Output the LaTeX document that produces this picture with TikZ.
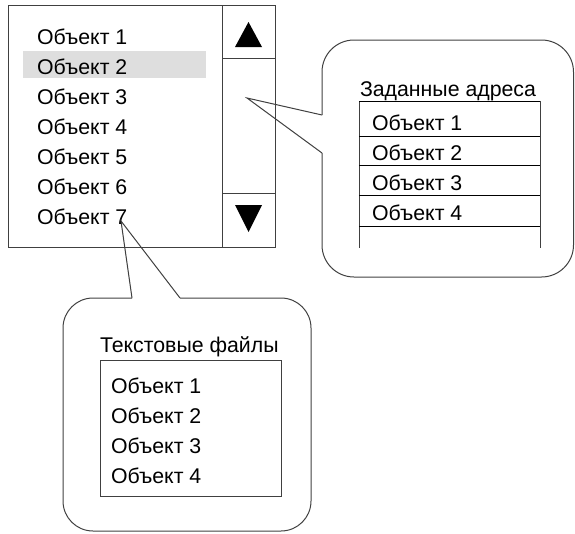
\documentclass[tikz,border=0pt]{standalone}
\usepackage{fontspec}
\setmainfont{Liberation Sans}
\begin{document}
\begin{tikzpicture}[x=1pt,y=-1pt,
  every node/.style={inner sep=0pt,outer sep=0pt,font=\fontsize{21.3}{25}\selectfont},
  txt/.style={anchor=base west},
  frame/.style={draw=black!75,line width=1pt},
  rule/.style={draw=black,line width=1pt},
  tri/.style={fill=black,draw=none}]
\useasboundingbox (0,0) rectangle (575,533);
% main list box
\fill[black!13] (23,51) rectangle (206,78);
\draw[frame] (8,5) rectangle (275,247);
\draw[frame] (222,5) -- (222,247);
\draw[frame] (222,58) -- (275,58);
\draw[frame] (222,193) -- (275,193);
\fill[tri] (235,47) -- (262,47) -- (248.5,22) -- cycle;
\fill[tri] (235,205) -- (262,205) -- (248.5,232) -- cycle;
\foreach \i/\yy in {1/44,2/74,3/104,4/134,5/164,6/194,7/224}
  \node[txt] (m\i) at (37,\yy) {Объект \i};
% right callout
\coordinate (tipR) at (247,98);
\draw[frame,rounded corners=32] (322,153) -- (322,277) -- (573.5,277) -- (573.5,40) -- (322,40) -- (322,115);
\draw[frame] (322,115) -- (tipR) -- (322,153);
\node[txt] (rt) at (360,96) {Заданные адреса};
\draw[frame] (359,101) -- (359,248);
\draw[frame] (540,101) -- (540,248);
\foreach \yy in {101,136,165,195,226} \draw[rule] (359,\yy) -- (540,\yy);
\foreach \i/\yy in {1/130,2/160,3/190,4/220}
  \node[txt] (r\i) at (372,\yy) {Объект \i};
% bottom callout
\coordinate (tipB) at (121,221);
\draw[frame,rounded corners=30] (180,298) -- (311,298) -- (311,531) -- (63,531) -- (63,298) -- (132,298);
\draw[frame] (132,298) -- (tipB) -- (180,298);
\node[txt] (bt) at (100,352) {Текстовые файлы};
\draw[frame] (100,360) rectangle (281,496);
\foreach \i/\yy in {1/393,2/423,3/453,4/483}
  \node[txt] (b\i) at (111,\yy) {Объект \i};
\end{tikzpicture}
\end{document}
